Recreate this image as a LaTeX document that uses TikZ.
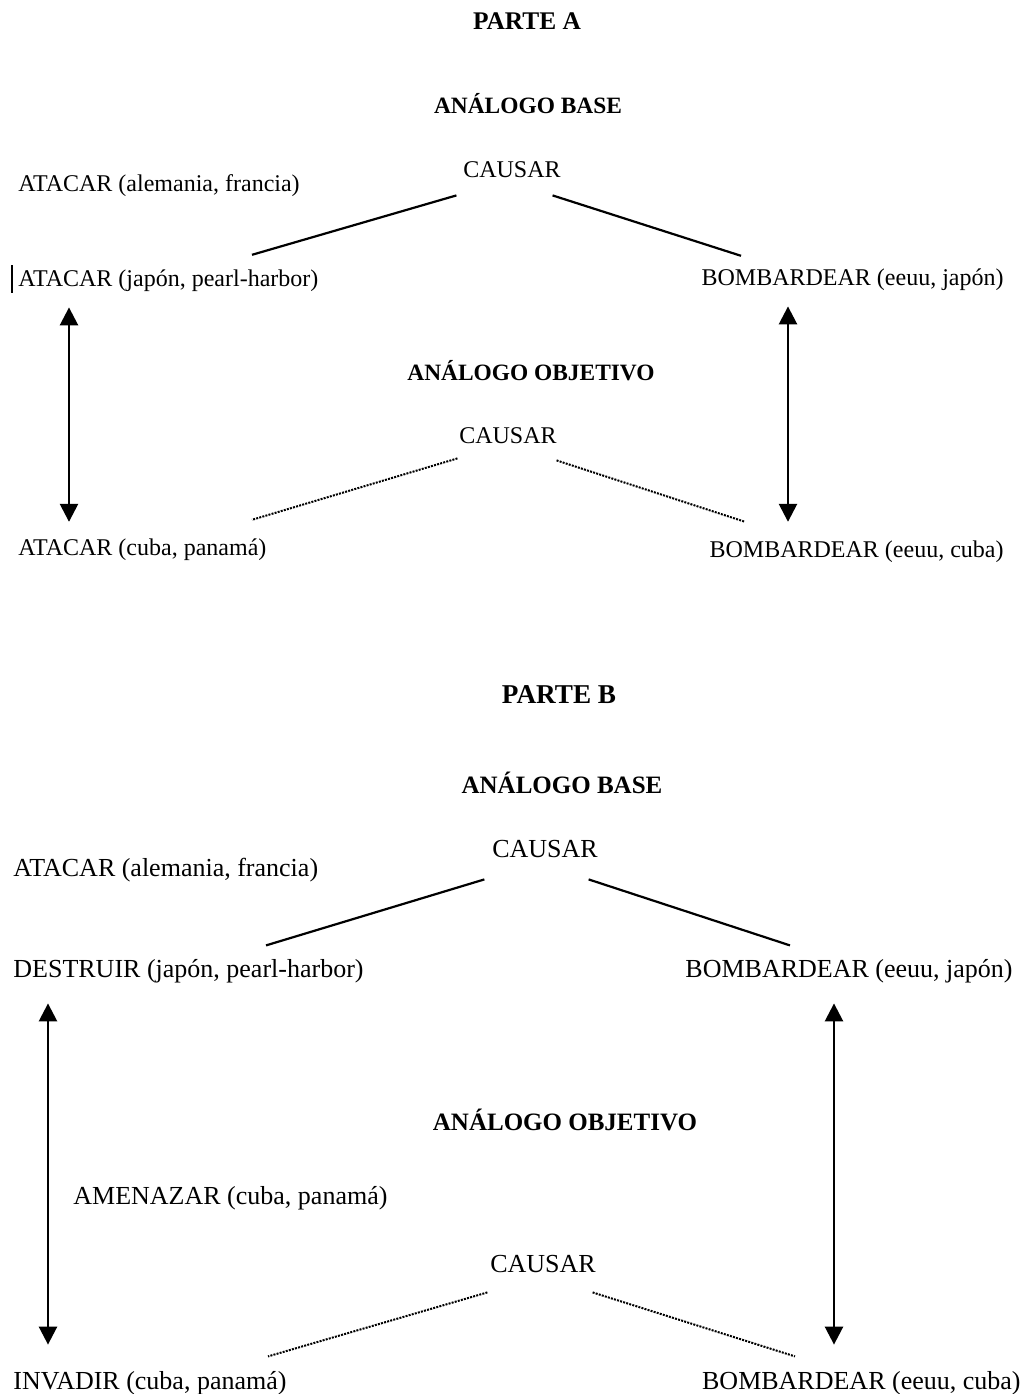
\documentclass[tikz,border=0pt]{standalone}
\usepackage{fontspec}
\setmainfont{Liberation Serif}
\usetikzlibrary{arrows.meta, calc}

\begin{document}
\begin{tikzpicture}[x=0.5pt, y=-0.5pt,
    txtA/.style={inner sep=0pt, font=\fontsize{12}{14}\selectfont, text height=8.4pt, text depth=2.5pt},
    txtB/.style={inner sep=0pt, font=\fontsize{13}{15}\selectfont, text height=9.1pt, text depth=2.7pt},
    hdrA/.style={inner sep=0pt, anchor=base, font=\fontsize{11.7}{14}\selectfont\bfseries},
    hdrB/.style={inner sep=0pt, anchor=base, font=\fontsize{12.5}{15}\selectfont\bfseries},
    rel/.style={line width=1.1pt},
    relobj/.style={line width=1pt, dash pattern=on 1pt off 0.6pt},
    corr/.style={line width=1.3pt, {Triangle[width=9pt,length=9pt]}-{Triangle[width=9pt,length=9pt]}}]
  \useasboundingbox (0,0) rectangle (1022,1394);

  % --- Parte A ---
  \node[hdrA, font=\fontsize{12.7}{15}\selectfont\bfseries] (parteA) at (527,29) {PARTE A};
  \node[hdrA] (baseA) at (528,113) {ANÁLOGO BASE};
  \node[txtA, anchor=base] (causA) at (512,177) {CAUSAR};
  \node[txtA, anchor=base west] (atalA) at (18,191) {ATACAR (alemania, francia)};
  \node[txtA, anchor=base west] (atjA) at (18,286) {ATACAR (japón, pearl-harbor)};
  \node[txtA, anchor=base east] (bjA) at (1004,285) {BOMBARDEAR (eeuu, japón)};
  \draw[line width=0.7pt] (12,265) -- (12,293);

  \node[hdrA] (objA) at (531,380) {ANÁLOGO OBJETIVO};
  \node[txtA, anchor=base] (causObjA) at (508,443) {CAUSAR};
  \node[txtA, anchor=base west] (acpA) at (18,555) {ATACAR (cuba, panamá)};
  \node[txtA, anchor=base east] (bcA) at (1004,557) {BOMBARDEAR (eeuu, cuba)};

  % Relations base
  \draw[rel] ($(causA.south west)+(-6.5,13)$) -- ($(atjA.north west)+(234,-14)$);
  \draw[rel] ($(causA.south east)+(-8.5,13)$) -- ($(bjA.north east)+(-263,-12)$);
  % Relations objetivo
  \draw[relobj] ($(causObjA.south west)+(-1.5,10)$) -- ($(acpA.north west)+(234,-18)$);
  \draw[relobj] ($(causObjA.south east)+(-0.5,12)$) -- ($(bcA.north east)+(-259,-18)$);

  % Correspondences
  \coordinate (colAl) at (69,0);
  \coordinate (colAr) at (788,0);
  \draw[corr, shorten <=8pt, shorten >=8pt] (colAl |- atjA.south) -- (colAl |- acpA.north);
  \draw[corr, shorten <=8pt, shorten >=9pt] (colAr |- bjA.south) -- (colAr |- bcA.north);

  % --- Parte B ---
  \node[hdrB, font=\fontsize{13.6}{16}\selectfont\bfseries] (parteB) at (559,703) {PARTE B};
  \node[hdrB] (baseB) at (562,793) {ANÁLOGO BASE};
  \node[txtB, anchor=base] (causB) at (545,857.6) {CAUSAR};
  \node[txtB, anchor=base west] (atalB) at (13,876) {ATACAR (alemania, francia)};
  \node[txtB, anchor=base west] (destB) at (13,977) {DESTRUIR (japón, pearl-harbor)};
  \node[txtB, anchor=base east] (bjB) at (1013,977) {BOMBARDEAR (eeuu, japón)};

  \node[hdrB] (objB) at (565,1130) {ANÁLOGO OBJETIVO};
  \node[txtB, anchor=base west] (amenB) at (73,1204) {AMENAZAR (cuba, panamá)};
  \node[txtB, anchor=base] (causObjB) at (543,1272.6) {CAUSAR};
  \node[txtB, anchor=base west] (invB) at (13,1389) {INVADIR (cuba, panamá)};
  \node[txtB, anchor=base east] (bcB) at (1021,1389) {BOMBARDEAR (eeuu, cuba)};

  % Relations base
  \draw[rel] ($(causB.south west)+(-7.5,16)$) -- ($(destB.north west)+(253,-13)$);
  \draw[rel] ($(causB.south east)+(-9.5,16)$) -- ($(bjB.north east)+(-223,-13)$);
  % Relations objetivo
  \draw[relobj] ($(causObjB.south west)+(-2.5,14)$) -- ($(invB.north west)+(255,-14)$);
  \draw[relobj] ($(causObjB.south east)+(-3.5,14)$) -- ($(bcB.north east)+(-226,-14)$);

  % Correspondences
  \coordinate (colBl) at (48,0);
  \coordinate (colBr) at (834,0);
  \draw[corr, shorten <=10.3pt, shorten >=12.9pt] (colBl |- destB.south) -- (colBl |- invB.north);
  \draw[corr, shorten <=10.3pt, shorten >=12.9pt] (colBr |- bjB.south) -- (colBr |- bcB.north);
\end{tikzpicture}
\end{document}
